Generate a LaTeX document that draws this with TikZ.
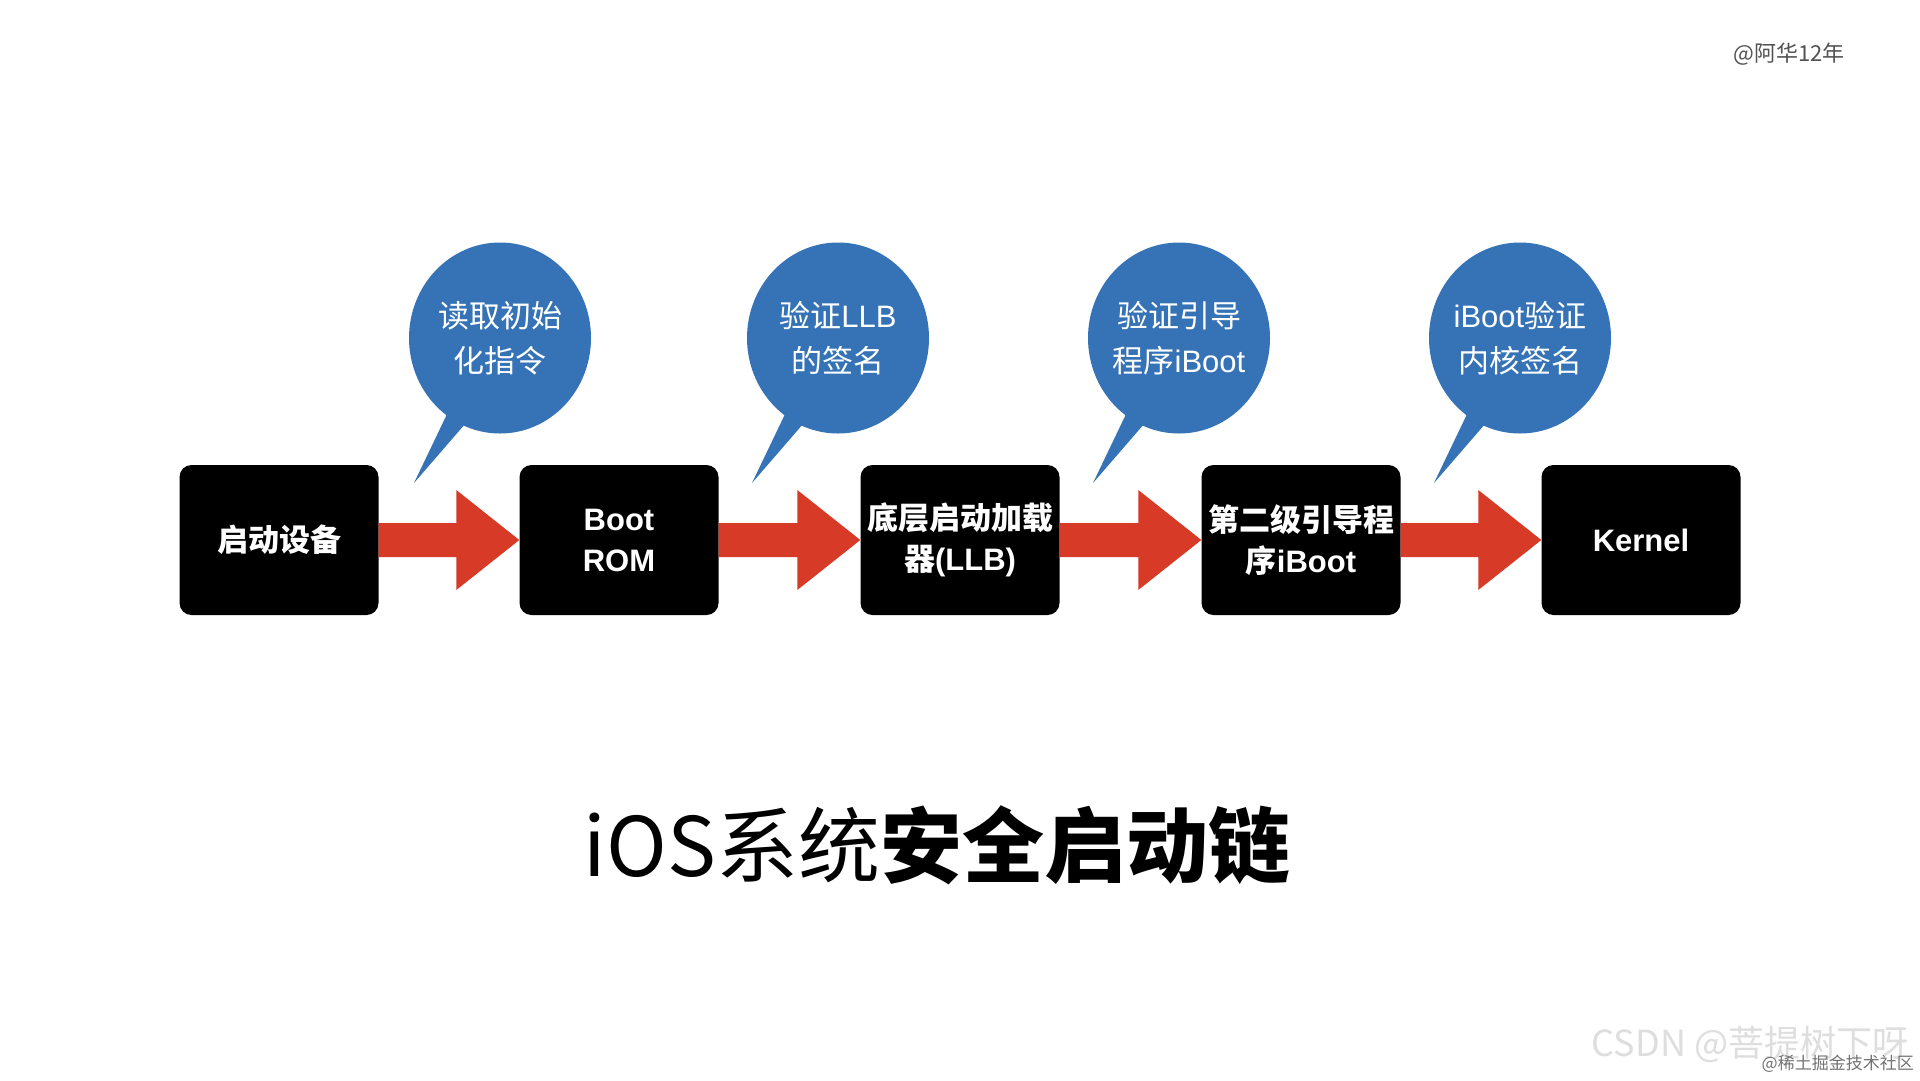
\documentclass[tikz,border=0pt]{standalone}
\usepackage{fontspec}
\newfontfamily\cjk{Noto Sans CJK SC}
\newfontfamily\lat{Liberation Sans}
\newfontfamily\latb{Liberation Sans Bold}
\usetikzlibrary{shapes.geometric,calc}
\definecolor{bubblue}{HTML}{3573B6}
\definecolor{arrred}{HTML}{D73A26}
\tikzset{
  stepbox/.style={fill=black, rounded corners=12pt, minimum width=199pt, minimum height=150pt,
    text=white, align=center, inner sep=0pt, font=\cjk\bfseries\fontsize{31}{41}\selectfont},
  bubble/.style={ellipse, fill=bubblue, minimum width=182pt, minimum height=191pt, inner sep=0pt},
  bubtext/.style={text=white, align=center, inner sep=0pt, font=\cjk\fontsize{31}{45}\selectfont},
  arr/.style={fill=arrred},
}
\begin{document}
\begin{tikzpicture}[x=1pt,y=-1pt]
\fill[white] (0,0) rectangle (1920,1080);
\useasboundingbox (0,0) rectangle (1920,1080);

% boxes
\node[stepbox] (b1) at (279,540) {启动设备};
\node[stepbox] (b2) at (619,540) {{\latb Boot}\\{\latb ROM}};
\node[stepbox] (b3) at (960,540) {底层启动加载\\器{\latb (LLB)}};
\node[stepbox] (b4) at (1301,540) {第二级引导程\\序{\latb iBoot}};
\node[stepbox] (b5) at (1641,540) {{\latb Kernel}};

% arrows
\foreach \a/\b in {b1/b2,b2/b3,b3/b4,b4/b5}{
  \fill[arr] ([yshift=17pt]\a.east) -- ([xshift=-63pt,yshift=17pt]\b.west)
    -- ([xshift=-63pt,yshift=50pt]\b.west) -- (\b.west)
    -- ([xshift=-63pt,yshift=-50pt]\b.west) -- ([xshift=-63pt,yshift=-17pt]\b.west)
    -- ([yshift=-17pt]\a.east) -- cycle;
}

% bubble tails
\foreach \i/\x in {1/500,2/838,3/1179,4/1520}{
  \coordinate (t\i) at (\x-86,483);
  \fill[bubblue] (t\i) -- (\x-40,387) -- (\x-22,409) -- cycle;
}
% bubbles
\node[bubble] (c1) at (500,338) {};
\node[bubble] (c2) at (838,338) {};
\node[bubble] (c3) at (1179,338) {};
\node[bubble] (c4) at (1520,338) {};
\node[bubtext] (c1t) at (c1) {读取初始\\化指令};
\node[bubtext] (c2t) at (c2) {验证{\lat LLB}\\的签名};
\node[bubtext] (c3t) at (c3) {验证引导\\程序{\lat iBoot}};
\node[bubtext] (c4t) at (c4) {{\lat iBoot}验证\\内核签名};

% title
\node[font=\cjk\fontsize{82}{90}\selectfont, inner sep=0pt] (title) at (937,845) {iOS系统{\bfseries 安全启动链}};

% watermarks
\node[font=\cjk\fontsize{22}{24}\selectfont, text=black!68, inner sep=0pt] (wm1) at (1789,54) {@阿华12年};
\node[font=\cjk\fontsize{36}{40}\selectfont, text=black!13, inner sep=0pt] (wm2) at (1750,1044) {CSDN @菩提树下呀};
\node[font=\cjk\fontsize{17}{18}\selectfont, text=black!55, inner sep=0pt, anchor=east] (wm3) at (1914,1064) {@稀土掘金技术社区};
\end{tikzpicture}
\end{document}
